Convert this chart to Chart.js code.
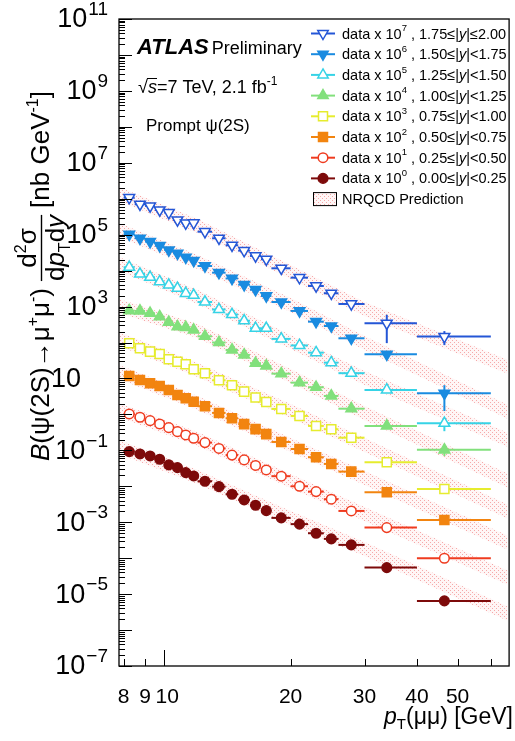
<!DOCTYPE html>
<html>
<head>
<meta charset="utf-8">
<script src="https://cdn.jsdelivr.net/npm/chart.js@4.4.0/dist/chart.umd.min.js"></script>
<style>
  html, body { margin: 0; padding: 0; background: #fff; }
  #wrap { position: relative; width: 515px; height: 741px; }
</style>
</head>
<body>
<div id="wrap"><canvas id="chart" width="515" height="741"></canvas></div>
<script>
// ============ DATA ============

// pT bins (GeV) and mean pT of each bin
const ptMean = [8.25, 8.75, 9.25, 9.75, 10.25, 10.75, 11.25, 11.75, 12.5, 13.5, 14.5, 15.5, 16.5, 17.5, 19.0, 21.0, 23.0, 25.0, 27.9, 33.9, 46.5];
const ptLow  = [8, 8.5, 9, 9.5, 10, 10.5, 11, 11.5, 12, 13, 14, 15, 16, 17, 18, 20, 22, 24, 26, 30, 40];
const ptHigh = [8.5, 9, 9.5, 10, 10.5, 11, 11.5, 12, 13, 14, 15, 16, 17, 18, 20, 22, 24, 26, 30, 40, 60];

// rapidity slices, top to bottom, and the 10^n factor applied to each
const rapLo = ['1.75', '1.50', '1.25', '1.00', '0.75', '0.50', '0.25', '0.00'];
const rapHi = ['2.00', '1.75', '1.50', '1.25', '1.00', '0.75', '0.50', '0.25'];
const scaleExp = [7, 6, 5, 4, 3, 2, 1, 0];

// B x d2sigma/dpT dy  [nb/GeV], unscaled
const xs_175_200 = [0.107, 0.0701, 0.0628, 0.0486, 0.0409, 0.0256, 0.0210, 0.0212, 0.0121, 0.00794, 0.00507, 0.00359, 0.00256, 0.00207, 0.00116, 0.000637, 0.000374, 0.000234, 0.000118, 3.43e-5, 1.46e-5];
const xs_150_175 = [0.1026, 0.0794, 0.0638, 0.0494, 0.0375, 0.0304, 0.0235, 0.0191, 0.01346, 0.00877, 0.00605, 0.00406, 0.00295, 0.00197, 0.00134, 0.000755, 0.000380, 0.000288, 0.000131, 4.71e-5, 3.87e-6];
const xs_125_150 = [0.124, 0.0807, 0.0653, 0.0493, 0.0399, 0.0323, 0.0234, 0.0206, 0.0134, 0.00830, 0.00603, 0.00403, 0.00249, 0.00249, 0.00126, 0.000828, 0.000522, 0.000275, 0.000140, 4.79e-5, 5.68e-6];
const xs_100_125 = [0.0769, 0.0755, 0.0652, 0.0524, 0.0366, 0.0276, 0.0265, 0.0223, 0.0149, 0.0100, 0.00621, 0.00451, 0.00265, 0.00223, 0.00136, 0.000764, 0.000569, 0.000326, 0.000144, 4.78e-5, 1.03e-5];
const xs_075_100 = [0.0953, 0.0692, 0.0557, 0.0481, 0.0342, 0.0293, 0.0248, 0.0180, 0.0140, 0.00891, 0.00647, 0.00430, 0.00296, 0.00222, 0.00142, 0.000906, 0.000478, 0.000386, 0.000225, 4.67e-5, 8.43e-6];
const xs_050_075 = [0.1175, 0.0908, 0.0735, 0.0618, 0.0479, 0.0348, 0.0281, 0.0226, 0.0169, 0.0110, 0.00782, 0.00536, 0.00389, 0.00282, 0.00171, 0.00109, 0.000643, 0.000419, 0.000256, 6.84e-5, 1.16e-5];
const xs_025_050 = [0.1030, 0.0834, 0.0670, 0.0542, 0.0428, 0.0331, 0.0268, 0.0217, 0.0164, 0.0113, 0.00736, 0.00541, 0.00380, 0.00285, 0.00191, 0.00100, 0.000710, 0.000437, 0.000206, 7.08e-5, 9.96e-6];
const xs_000_025 = [0.0920, 0.0794, 0.0698, 0.0566, 0.0393, 0.0330, 0.0240, 0.0194, 0.0138, 0.00977, 0.00601, 0.00417, 0.00297, 0.00210, 0.00132, 0.000885, 0.000494, 0.000344, 0.000234, 5.46e-5, 6.47e-6];

// relative stat. error of the two highest pT bins (30-40, 40-60)
const relErrLast = [[0.72, 0.42], [0.15, 0.68], [0.12, 0.4], [0.1, 0.33], [0.08, 0.1], [0.08, 0.1], [0.08, 0.1], [0.08, 0.1]];

// NRQCD prediction band (unscaled), edges at these pT values
const bandPt = [7.8, 12, 20, 30, 66];
const nrqcdHi_175_200 = [0.212, 0.0274, 0.001436, 0.0001343, 3.27e-6];
const nrqcdLo_175_200 = [0.0865, 0.01114, 0.000585, 5.47e-5, 1.33e-6];
const nrqcdHi_150_175 = [0.212, 0.0273, 0.001738, 0.000152, 1.83e-6];
const nrqcdLo_150_175 = [0.0863, 0.01112, 0.000708, 6.19e-5, 7.46e-7];
const nrqcdHi_125_150 = [0.240, 0.0290, 0.001622, 0.000162, 3.05e-6];
const nrqcdLo_125_150 = [0.0977, 0.0118, 0.000661, 6.59e-5, 1.24e-6];
const nrqcdHi_100_125 = [0.163, 0.0328, 0.00184, 0.000172, 2.21e-6];
const nrqcdLo_100_125 = [0.0664, 0.01337, 0.00075, 7.0e-5, 9.0e-7];
const nrqcdHi_075_100 = [0.197, 0.0270, 0.001954, 0.000221, 3.03e-6];
const nrqcdLo_075_100 = [0.0802, 0.01102, 0.000796, 9.0e-5, 1.24e-6];
const nrqcdHi_050_075 = [0.238, 0.0326, 0.00221, 0.000267, 4.16e-6];
const nrqcdLo_050_075 = [0.0968, 0.01327, 0.000902, 0.000109, 1.69e-6];
const nrqcdHi_025_050 = [0.208, 0.0325, 0.00221, 0.000267, 4.43e-6];
const nrqcdLo_025_050 = [0.0849, 0.01324, 0.000899, 0.000109, 1.80e-6];
const nrqcdHi_000_025 = [0.195, 0.0285, 0.002065, 0.000283, 4.41e-6];
const nrqcdLo_000_025 = [0.0794, 0.01161, 0.000841, 0.0001153, 1.79e-6];

// axis ticks
const yTickExp = [11, 9, 7, 5, 3, 1, -1, -3, -5, -7];
const xTickVals = [8, 9, 10, 20, 30, 40, 50, 60];
const xTickLabels = ['8', '9', '10', '20', '30', '40', '50', ''];

const seriesData = [xs_175_200, xs_150_175, xs_125_150, xs_100_125, xs_075_100, xs_050_075, xs_025_050, xs_000_025];
const bandHi = [nrqcdHi_175_200, nrqcdHi_150_175, nrqcdHi_125_150, nrqcdHi_100_125, nrqcdHi_075_100, nrqcdHi_050_075, nrqcdHi_025_050, nrqcdHi_000_025];
const bandLo = [nrqcdLo_175_200, nrqcdLo_150_175, nrqcdLo_125_150, nrqcdLo_100_125, nrqcdLo_075_100, nrqcdLo_050_075, nrqcdLo_025_050, nrqcdLo_000_025];

// ============ STYLES ============

const seriesColor = ['#2456d6', '#1a8be0', '#36d3e6', '#82e07c', '#e6ec2e', '#f2840f', '#ef3b1f', '#7d0a0a'];
const seriesShape = ['triangle', 'triangle', 'triangle', 'triangle', 'rect', 'rect', 'circle', 'circle'];
const seriesDown = [true, true, false, false, false, false, false, false];
const seriesFilled = [false, true, false, true, false, true, false, true];

const FONT = '"Liberation Sans", Arial, Helvetica, sans-serif';

// ============ HELPERS ============

function makeHatch(ctx) {
  const c = document.createElement('canvas');
  c.width = 4; c.height = 4;
  const g = c.getContext('2d');
  g.fillStyle = 'rgba(255,215,215,0.22)';
  g.fillRect(0, 0, 4, 4);
  g.fillStyle = 'rgba(236,105,105,0.55)';
  g.fillRect(0, 0, 1, 1);
  g.fillRect(2, 2, 1, 1);
  return ctx.createPattern(c, 'repeat');
}

// parts: {t, s: size, dy, i: italic, b: bold}
function richWidth(ctx, parts) {
  let w = 0;
  parts.forEach(p => {
    ctx.font = (p.i ? 'italic ' : '') + (p.b ? 'bold ' : '') + p.s + 'px ' + FONT;
    p.w = ctx.measureText(p.t).width;
    w += p.w + (p.gap || 0);
  });
  return w;
}

function drawRich(ctx, parts, x, y, align) {
  const total = richWidth(ctx, parts);
  let cx = align === 'right' ? x - total : align === 'center' ? x - total / 2 : x;
  parts.forEach(p => {
    ctx.font = (p.i ? 'italic ' : '') + (p.b ? 'bold ' : '') + p.s + 'px ' + FONT;
    ctx.fillText(p.t, cx, y + (p.dy || 0));
    cx += p.w + (p.gap || 0);
  });
  return total;
}

function drawMarker(ctx, i, x, y) {
  const col = seriesColor[i];
  ctx.save();
  ctx.beginPath();
  if (seriesShape[i] === 'triangle') {
    const r = 6, d = seriesDown[i] ? 1 : -1;
    ctx.moveTo(x, y + d * r);
    ctx.lineTo(x + r * 0.866, y - d * r / 2);
    ctx.lineTo(x - r * 0.866, y - d * r / 2);
    ctx.closePath();
  } else if (seriesShape[i] === 'rect') {
    ctx.rect(x - 4.5, y - 4.5, 9, 9);
  } else {
    ctx.arc(x, y, 4.8, 0, Math.PI * 2);
  }
  ctx.fillStyle = seriesFilled[i] ? col : '#fff';
  ctx.fill();
  ctx.lineWidth = 1.5;
  ctx.strokeStyle = col;
  ctx.stroke();
  ctx.restore();
}

// ============ PLUGINS ============

const errorBars = {
  id: 'errorBars',
  beforeDatasetDraw(chart, args) {
    const ds = chart.data.datasets[args.index];
    if (ds.seriesIndex === undefined) return;
    const i = ds.seriesIndex;
    const xs = chart.scales.x, ys = chart.scales.y;
    const ctx = chart.ctx;
    const f = Math.pow(10, scaleExp[i]);
    ctx.save();
    ctx.strokeStyle = seriesColor[i];
    ctx.lineWidth = 2;
    seriesData[i].forEach((v, j) => {
      const y = ys.getPixelForValue(v * f);
      ctx.beginPath();
      ctx.moveTo(xs.getPixelForValue(ptLow[j]), y);
      ctx.lineTo(Math.min(xs.getPixelForValue(ptHigh[j]), chart.chartArea.right), y);
      ctx.stroke();
      const k = j - (seriesData[i].length - 2);
      if (k >= 0) {
        const e = relErrLast[i][k];
        const x = xs.getPixelForValue(ptMean[j]);
        ctx.beginPath();
        ctx.moveTo(x, ys.getPixelForValue(v * f * (1 + e)));
        ctx.lineTo(x, ys.getPixelForValue(v * f * (1 - e)));
        ctx.stroke();
      }
    });
    ctx.restore();
  }
};

const decorations = {
  id: 'decorations',
  afterDraw(chart) {
    const ctx = chart.ctx;
    const a = chart.chartArea;
    const xs = chart.scales.x, ys = chart.scales.y;
    ctx.save();
    ctx.fillStyle = '#000';
    ctx.strokeStyle = '#000';

    // frame
    ctx.lineWidth = 1.3;
    ctx.strokeRect(a.left, a.top, a.right - a.left + 2, a.bottom - a.top);

    // y ticks (inward)
    ctx.lineWidth = 1;
    for (let e = -7; e <= 11; e++) {
      const y = Math.round(ys.getPixelForValue(Math.pow(10, e))) + 0.5;
      ctx.beginPath(); ctx.moveTo(a.left, y); ctx.lineTo(a.left + 13, y); ctx.stroke();
      if (e === 11) continue;
      for (let m = 2; m <= 9; m++) {
        const ym = Math.round(ys.getPixelForValue(m * Math.pow(10, e))) + 0.5;
        ctx.beginPath(); ctx.moveTo(a.left, ym); ctx.lineTo(a.left + 6, ym); ctx.stroke();
      }
    }
    // x ticks (inward)
    xTickVals.forEach(v => {
      const x = Math.round(xs.getPixelForValue(v)) + 0.5;
      const len = v === 10 ? 16 : 7;
      ctx.beginPath(); ctx.moveTo(x, a.bottom); ctx.lineTo(x, a.bottom - len); ctx.stroke();
    });

    // y tick labels
    ctx.textBaseline = 'middle';
    yTickExp.forEach(e => {
      const y = ys.getPixelForValue(Math.pow(10, e));
      if (e === 1) {
        drawRich(ctx, [{t: '10', s: 27}], 81, y + 1, 'right');
      } else {
        const ex = e < 0 ? '\u2212' + (-e) : String(e);
        drawRich(ctx, [{t: '10', s: 27, gap: 1}, {t: ex, s: 19, dy: -10}], 108, y + 1, 'right');
      }
    });
    // x tick labels
    ctx.textBaseline = 'alphabetic';
    xTickVals.forEach((v, k) => {
      if (!xTickLabels[k]) return;
      drawRich(ctx, [{t: xTickLabels[k], s: 21}], xs.getPixelForValue(v) + (v === 10 ? 3 : 0), 703, 'center');
    });

    // x title
    drawRich(ctx, [
      {t: 'p', s: 23, i: true}, {t: 'T', s: 15, dy: 5}, {t: '(\u03bc\u03bc) [GeV]', s: 23}
    ], 513, 724, 'right');

    // y title (rotated)
    ctx.save();
    ctx.translate(49, 461);
    ctx.rotate(-Math.PI / 2);
    const ts = 26;
    let w = drawRich(ctx, [
      {t: 'B', s: ts, i: true}, {t: '(\u03c8(2S)\u2192\u03bc', s: ts}, {t: '+', s: 16, dy: -11},
      {t: '\u03bc', s: ts}, {t: '-', s: 16, dy: -11}, {t: ')', s: ts}
    ], 0, 0, 'left');
    const fx = w + 7;
    const numParts = [{t: 'd', s: ts}, {t: '2', s: 16, dy: -10}, {t: '\u03c3', s: ts}];
    const denParts = [{t: 'd', s: ts}, {t: 'p', s: ts, i: true}, {t: 'T', s: 16, dy: 6}, {t: 'd', s: ts}, {t: 'y', s: ts, i: true}];
    const nw = richWidth(ctx, numParts), dw = richWidth(ctx, denParts);
    const fw = Math.max(nw, dw);
    drawRich(ctx, numParts, fx + fw / 2, -13, 'center');
    drawRich(ctx, denParts, fx + fw / 2, 15, 'center');
    ctx.lineWidth = 1.4;
    ctx.beginPath(); ctx.moveTo(fx, -7.5); ctx.lineTo(fx + fw, -7.5); ctx.stroke();
    drawRich(ctx, [
      {t: '[nb GeV', s: ts}, {t: '-1', s: 16, dy: -11}, {t: ']', s: ts}
    ], fx + fw + 7, 0, 'left');
    ctx.restore();

    // ATLAS labels
    let aw = drawRich(ctx, [{t: 'ATLAS', s: 22, i: true, b: true}], 137, 54, 'left');
    drawRich(ctx, [{t: 'Preliminary', s: 18}], 137 + aw + 3, 54, 'left');
    drawRich(ctx, [
      {t: '\u221a', s: 18}, {t: 's', s: 18, i: true}, {t: '=7 TeV, 2.1 fb', s: 18}, {t: '-1', s: 12, dy: -8}
    ], 138, 93, 'left');
    ctx.lineWidth = 1;
    ctx.beginPath(); ctx.moveTo(147, 78.5); ctx.lineTo(157, 78.5); ctx.stroke();
    drawRich(ctx, [{t: 'Prompt \u03c8(2S)', s: 17}], 146, 131, 'left');

    // legend
    ctx.textBaseline = 'middle';
    for (let i = 0; i < 8; i++) {
      const y = 33.5 + i * 20.7;
      ctx.strokeStyle = seriesColor[i];
      ctx.lineWidth = 2;
      ctx.beginPath(); ctx.moveTo(311, y); ctx.lineTo(335, y); ctx.stroke();
      drawMarker(ctx, i, 323, y);
      ctx.fillStyle = '#000';
      drawRich(ctx, [
        {t: 'data x 10', s: 14.5}, {t: String(scaleExp[i]), s: 9.5, dy: -6},
        {t: ' , ' + rapLo[i] + '\u2264|', s: 14.5}, {t: 'y', s: 14.5, i: true},
        {t: '|' + (i === 0 ? '\u2264' : '<') + rapHi[i], s: 14.5}
      ], 342, y + 1, 'left');
    }
    const by = 33.5 + 8 * 20.7;
    ctx.fillStyle = chart.$hatch;
    ctx.fillRect(313, by - 6.5, 23, 13);
    ctx.strokeStyle = '#000';
    ctx.lineWidth = 1;
    ctx.strokeRect(313.5, by - 6.5, 23, 13);
    ctx.fillStyle = '#000';
    drawRich(ctx, [{t: 'NRQCD Prediction', s: 14.5}], 342, by + 1, 'left');

    ctx.restore();
  }
};

// ============ CHART ============

const canvas = document.getElementById('chart');
const ctx2d = canvas.getContext('2d');
const hatch = makeHatch(ctx2d);

const datasets = [];
seriesData.forEach((vals, i) => {
  const f = Math.pow(10, scaleExp[i]);
  datasets.push({
    seriesIndex: i,
    data: vals.map((v, j) => ({x: ptMean[j], y: v * f})),
    showLine: false,
    pointStyle: seriesShape[i],
    rotation: seriesDown[i] ? 180 : 0,
    pointRadius: seriesShape[i] === 'triangle' ? 6.2 : seriesShape[i] === 'rect' ? 6.4 : 4.8,
    pointBorderWidth: 1.5,
    pointBorderColor: seriesColor[i],
    pointBackgroundColor: seriesFilled[i] ? seriesColor[i] : '#ffffff',
    order: 1
  });
});
bandHi.forEach((hi, i) => {
  const f = Math.pow(10, scaleExp[i]);
  datasets.push({
    data: hi.map((v, j) => ({x: bandPt[j], y: v * f})),
    borderWidth: 0, pointRadius: 0, fill: false, tension: 0, order: 2
  });
  datasets.push({
    data: bandLo[i].map((v, j) => ({x: bandPt[j], y: v * f})),
    borderWidth: 0, pointRadius: 0, fill: '-1', backgroundColor: hatch, tension: 0, order: 2
  });
});

const chart = new Chart(canvas, {
  type: 'line',
  data: { datasets },
  options: {
    responsive: false,
    animation: false,
    devicePixelRatio: 1,
    layout: { padding: { left: 119, top: 19, right: 0, bottom: 75 } },
    plugins: { legend: { display: false }, tooltip: { enabled: false } },
    scales: {
      x: { type: 'logarithmic', min: 7.8, max: 65.6, display: false },
      y: { type: 'logarithmic', min: 1e-7, max: 1e11, display: false }
    }
  },
  plugins: [errorBars, decorations]
});
chart.$hatch = hatch;
chart.draw();
</script>
</body>
</html>
